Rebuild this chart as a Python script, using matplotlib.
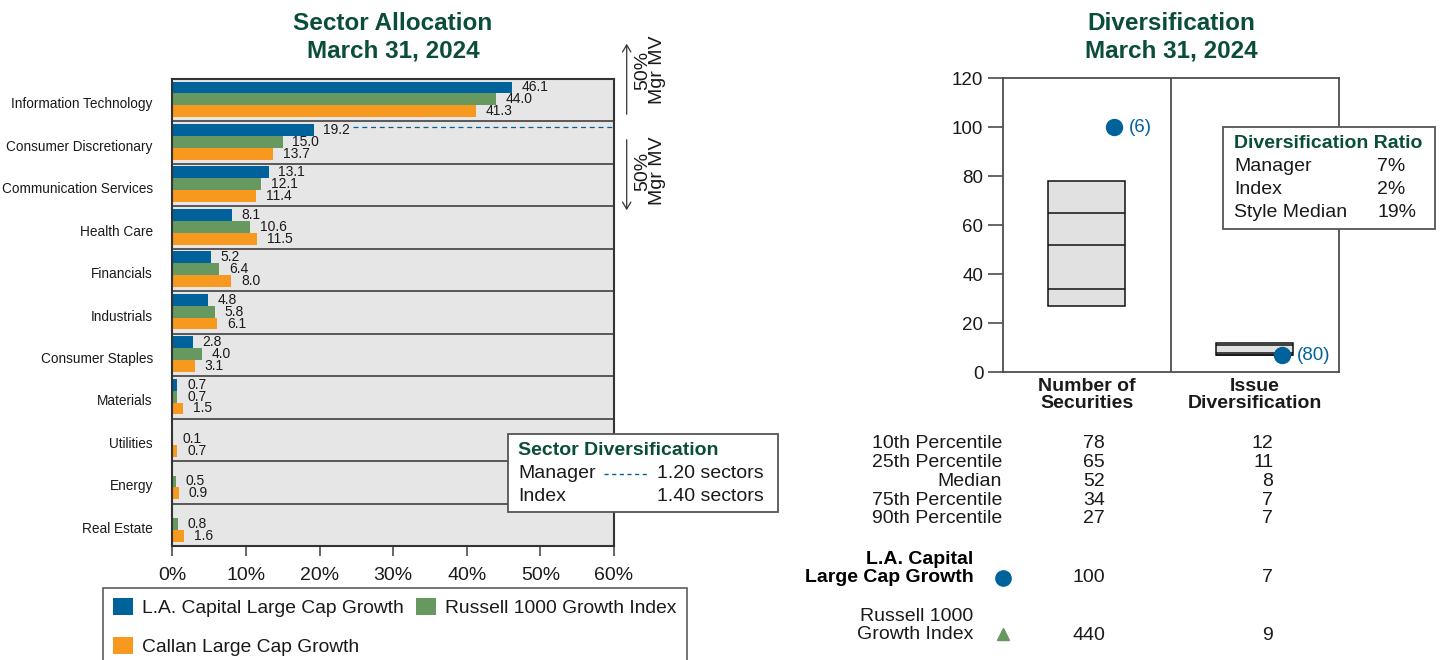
import numpy as np
import matplotlib
matplotlib.use("Agg")
import matplotlib.pyplot as plt
from matplotlib.patches import Rectangle, FancyArrowPatch, Patch
from matplotlib.lines import Line2D

plt.rcParams['font.family'] = ['Liberation Sans', 'DejaVu Sans']

# ---------------- data ----------------
sectors = ["Information Technology", "Consumer Discretionary", "Communication Services",
           "Health Care", "Financials", "Industrials", "Consumer Staples", "Materials",
           "Utilities", "Energy", "Real Estate"]
manager = [46.1, 19.2, 13.1, 8.1, 5.2, 4.8, 2.8, 0.7, 0.0, 0.0, 0.0]
index_w = [44.0, 15.0, 12.1, 10.6, 6.4, 5.8, 4.0, 0.7, 0.1, 0.5, 0.8]
callan = [41.3, 13.7, 11.4, 11.5, 8.0, 6.1, 3.1, 1.5, 0.7, 0.9, 1.6]
series_names = ["L.A. Capital Large Cap Growth", "Russell 1000 Growth Index", "Callan Large Cap Growth"]
x_ticks = [0, 10, 20, 30, 40, 50, 60]
sector_div_labels = ["Manager", "Index"]
sector_div_values = ["1.20 sectors", "1.40 sectors"]

div_cats = ["Number of\nSecurities", "Issue\nDiversification"]
p10 = [78, 12]
p25 = [65, 11]
p50 = [52, 8]
p75 = [34, 7]
p90 = [27, 7]
mgr_div = [100, 7]
mgr_rank = [6, 80]
idx_div = [440, 9]
y_ticks = [0, 20, 40, 60, 80, 100, 120]
pct_labels = ["10th Percentile", "25th Percentile", "Median", "75th Percentile", "90th Percentile"]
ratio_labels = ["Manager", "Index", "Style Median"]
ratio_values = ["7%", "2%", "19%"]

# ---------------- style ----------------
BLUE = "#00629b"
GREEN = "#67985f"
ORANGE = "#f7991e"
TITLE_GREEN = "#0b4d3b"
TXT = "#1a1a1a"
GRID = "#4d4d4d"
W, H = 1440, 660

def fx(px):
    return px / W

def fy(py):
    return 1 - py / H

fig = plt.figure(figsize=(14.4, 6.6), dpi=100)

# ---------------- left: sector allocation ----------------
ax1 = fig.add_axes([fx(172.3), fy(546), (614 - 172.3) / W, (546 - 79) / H])
ax1.set_facecolor("#e6e6e6")
y = np.arange(len(sectors))
offsets = [-0.30, -0.02, 0.26]
bh = 0.28
colors = [BLUE, GREEN, ORANGE]
for vals, off, col in zip([manager, index_w, callan], offsets, colors):
    ax1.barh(y + off, vals, height=bh, color=col, linewidth=0, zorder=2)
    for yi, v in zip(y, vals):
        if v > 0:
            ax1.annotate(f"{v:.1f}", (v, yi + off), xytext=(7, 0), textcoords="offset points",
                         ha="left", va="center", fontsize=10, color=TXT, zorder=3)

ax1.set_xlim(0, 60)
ax1.set_ylim(len(sectors) - 0.5, -0.5)
ax1.hlines(np.arange(0.5, len(sectors) - 0.5, 1), 0, 60, color=GRID, lw=1.3, zorder=1)
ax1.set_yticks(y + 0.06)
ax1.set_yticklabels(sectors, fontsize=9.8, color=TXT)
ax1.tick_params(axis="y", length=0, pad=14)
ax1.set_xticks(x_ticks)
ax1.set_xticklabels([f"{t}%" for t in x_ticks], fontsize=14, color=TXT)
ax1.tick_params(axis="x", length=7, width=1.2, color=GRID, pad=8, direction="out")
for s in ax1.spines.values():
    s.set_color("#333333")
    s.set_linewidth(1.5)

# 50% cumulative marker line
cum = np.cumsum(manager)
idx50 = int(np.argmax(cum >= 50))
ax1.hlines(idx50 - 0.38, manager[idx50] + 5.3, 60, colors=BLUE, linestyles=(0, (4, 3)), lw=0.9, zorder=3)

fig.text(fx(393), fy(37), "Sector Allocation\nMarch 31, 2024", ha="center", va="center",
         fontsize=17.5, fontweight="bold", color=TITLE_GREEN, linespacing=1.25)

# arrows & labels
for (y0, y1), ty in [((117, 41), 70), ((137, 213), 171)]:
    arr = FancyArrowPatch((fx(626.7), fy(y0)), (fx(626.7), fy(y1)), transform=fig.transFigure,
                          arrowstyle="->,head_length=5,head_width=3", lw=0.9, color="#333333",
                          mutation_scale=1)
    fig.add_artist(arr)
    fig.text(fx(650), fy(ty), "50%\nMgr MV", rotation=90, ha="center", va="center",
             fontsize=14, color=TXT, linespacing=0.85)

# sector diversification box
fig.add_artist(Rectangle((fx(508.3), fy(511.7)), (777.7 - 508.3) / W, (511.7 - 434) / H,
                         transform=fig.transFigure, facecolor="white", edgecolor="#555555",
                         lw=1.3, zorder=5))
fig.text(fx(518.3), fy(450.7), "Sector Diversification", ha="left", va="center", fontsize=14,
         fontweight="bold", color=TITLE_GREEN, zorder=6)
for lab, val, py in zip(sector_div_labels, sector_div_values, [474, 496.7]):
    fig.text(fx(518.3), fy(py), lab, ha="left", va="center", fontsize=14, color=TXT, zorder=6)
    fig.text(fx(656.7), fy(py), val, ha="left", va="center", fontsize=14, color=TXT, zorder=6)
fig.add_artist(Line2D([fx(604), fx(647)], [fy(474), fy(474)], transform=fig.transFigure,
                      color=BLUE, lw=1.0, linestyle=(0, (3, 2.5)), zorder=6))

# legend
handles = [Patch(facecolor=c, edgecolor="none") for c in colors]
order = [0, 2, 1]
leg = fig.legend([handles[i] for i in order], [series_names[i] for i in order],
                 loc="upper left", bbox_to_anchor=(fx(102.7), fy(587.7)), ncol=2,
                 fontsize=13.85, frameon=True, fancybox=False, handlelength=1.0, handleheight=1.0,
                 handletextpad=0.5, columnspacing=0.65, labelspacing=1.0, borderpad=0.55,
                 borderaxespad=0)
leg.get_frame().set_edgecolor("#333333")
leg.get_frame().set_linewidth(1.2)
for t in leg.get_texts():
    t.set_color(TXT)

# ---------------- right: diversification ----------------
ax2 = fig.add_axes([fx(1002.7), fy(372.3), 336.3 / W, 294 / H])
xc = np.arange(len(div_cats))
bw = 0.458
hi = np.array(p10)
lo = np.array(p90)
ax2.bar(xc, hi - lo, bottom=lo, width=bw, color="#e1e1e1", edgecolor="#111111", lw=1.1, zorder=2)
for arr_ in [p25, p50, p75]:
    ax2.hlines(arr_, xc - bw / 2, xc + bw / 2, color="#111111", lw=1.1, zorder=3)
ax2.plot(xc + 0.16, mgr_div, linestyle="none", marker="o", ms=11.5, color=BLUE, zorder=4, clip_on=False)
for xi, v, r in zip(xc, mgr_div, mgr_rank):
    ax2.annotate(f"({r})", (xi + 0.16, v), xytext=(11, 0), textcoords="offset points",
                 ha="left", va="center", fontsize=13.5, color=BLUE)
ax2.axvline(0.5, color=GRID, lw=1.3)
ax2.set_xlim(-0.5, 1.5)
ax2.set_ylim(0, 120)
ax2.set_yticks(y_ticks)
ax2.set_yticklabels([str(t) for t in y_ticks], fontsize=13.5, color=TXT)
ax2.tick_params(axis="y", length=11, width=1.2, color=GRID, pad=3)
ax2.set_xticks(xc)
ax2.set_xticklabels(div_cats, fontsize=14, fontweight="bold", color=TXT)
for t in ax2.get_xticklabels():
    t.set_linespacing(1.02)
ax2.tick_params(axis="x", length=0, pad=4)
for s in ax2.spines.values():
    s.set_color(GRID)
    s.set_linewidth(1.3)

fig.text(fx(1170.9), fy(37), "Diversification\nMarch 31, 2024", ha="center", va="center",
         fontsize=17.5, fontweight="bold", color=TITLE_GREEN, linespacing=1.25)

# ratio box
fig.add_artist(Rectangle((fx(1223.3), fy(228.7)), (1435 - 1223.3) / W, (228.7 - 126.7) / H,
                         transform=fig.transFigure, facecolor="white", edgecolor="#555555",
                         lw=1.3, zorder=5))
fig.text(fx(1234), fy(143.3), "Diversification Ratio", ha="left", va="center", fontsize=14,
         fontweight="bold", color=TITLE_GREEN, zorder=6)
for lab, val, py in zip(ratio_labels, ratio_values, [166.7, 189.3, 212.7]):
    fig.text(fx(1234), fy(py), lab, ha="left", va="center", fontsize=14, color=TXT, zorder=6)
    fig.text(fx(1377.5), fy(py), val, ha="left", va="center", fontsize=14, color=TXT, zorder=6)

# percentile table
table_vals = [p10, p25, p50, p75, p90]
for lab, vals, py in zip(pct_labels, table_vals, [444, 462.7, 481.4, 500.1, 518.8]):
    fig.text(fx(1002), fy(py), lab, ha="right", va="center", fontsize=14, color=TXT)
    fig.text(fx(1105), fy(py), str(vals[0]), ha="right", va="center", fontsize=14, color=TXT)
    fig.text(fx(1273.3), fy(py), str(vals[1]), ha="right", va="center", fontsize=14, color=TXT)

fig.text(fx(973.3), fy(568.5), "L.A. Capital\nLarge Cap Growth", ha="right", va="center",
         fontsize=14, fontweight="bold", color="black", linespacing=1.06)
fig.add_artist(Line2D([fx(1002.7)], [fy(578)], transform=fig.transFigure, marker="o", ms=11,
                      color=BLUE, linestyle="none"))
fig.text(fx(1105), fy(577), str(mgr_div[0]), ha="right", va="center", fontsize=14, color=TXT)
fig.text(fx(1273.3), fy(577), str(mgr_div[1]), ha="right", va="center", fontsize=14, color=TXT)

fig.text(fx(973.3), fy(625.5), "Russell 1000\nGrowth Index", ha="right", va="center",
         fontsize=14, color=TXT, linespacing=1.12)
fig.add_artist(Line2D([fx(1002.7)], [fy(634)], transform=fig.transFigure, marker="^", ms=9,
                      color=GREEN, linestyle="none"))
fig.text(fx(1105), fy(635), str(idx_div[0]), ha="right", va="center", fontsize=14, color=TXT)
fig.text(fx(1273.3), fy(635), str(idx_div[1]), ha="right", va="center", fontsize=14, color=TXT)

fig.savefig("out.png", dpi=100)
